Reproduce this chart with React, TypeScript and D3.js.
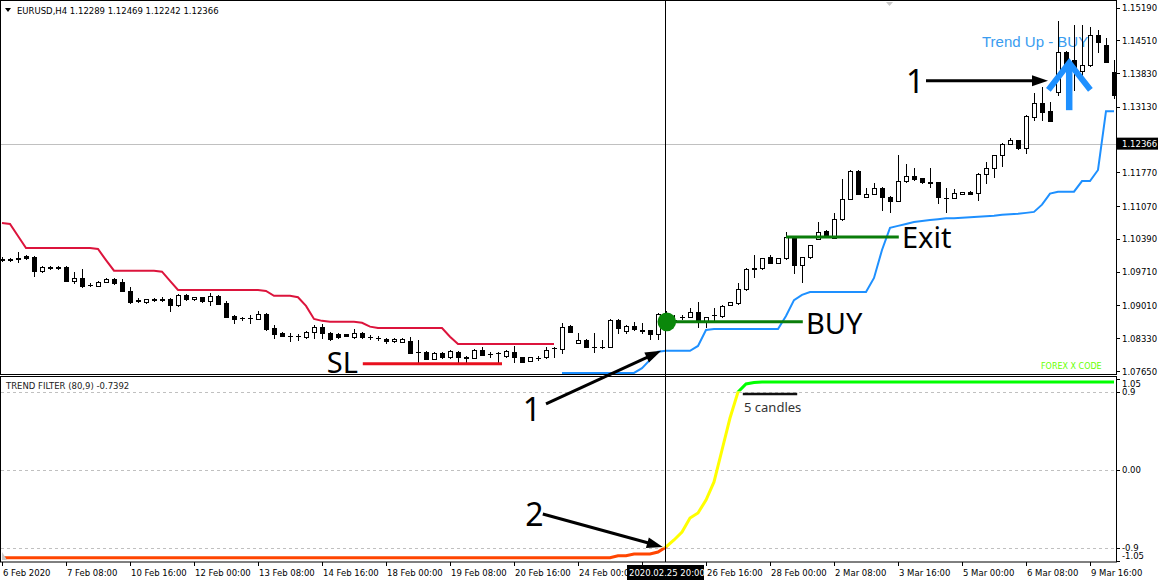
import React from "react";
import * as d3 from "d3";

// ---------- DATA ----------
const opens = [
  1.0997, 1.0997, 1.0998, 1.1003, 1.1001, 1.0973, 1.0981, 1.0981, 1.098, 1.0952,
  1.0958, 1.0944, 1.0942, 1.095, 1.0956, 1.095, 1.0931, 1.0912, 1.0908, 1.0915,
  1.0914, 1.0914, 1.0902, 1.0923, 1.0914, 1.0918, 1.091, 1.0921, 1.0906, 1.0879,
  1.0875, 1.0875, 1.0873, 1.0884, 1.0854, 1.0844, 1.0838, 1.0838, 1.0836, 1.0846,
  1.0857, 1.0844, 1.0842, 1.0841, 1.0836, 1.0844, 1.0836, 1.0834, 1.0832, 1.0827,
  1.0826, 1.0828, 1.0805, 1.0805, 1.079, 1.0803, 1.0794, 1.0805, 1.0794, 1.0792,
  1.0809, 1.0801, 1.0803, 1.0796, 1.0805, 1.0794, 1.0786, 1.0792, 1.0794, 1.0813,
  1.0811, 1.0859, 1.0824, 1.083, 1.0815, 1.0815, 1.0815, 1.0871, 1.0848, 1.0859,
  1.085, 1.085, 1.0842, 1.0879, 1.0871, 1.0877, 1.0877, 1.0888, 1.0867, 1.0882,
  1.0879, 1.0902, 1.0906, 1.0935, 1.0978, 1.0978, 1.1001, 1.0989, 1.0999, 1.1041,
  1.0985, 1.1001, 1.1039, 1.1056, 1.1041, 1.108, 1.1122, 1.118, 1.1126, 1.1133,
  1.1145, 1.1126, 1.1118, 1.1159, 1.117, 1.1165, 1.1157, 1.1157, 1.1124, 1.1124,
  1.1133, 1.1137, 1.1135, 1.1174, 1.1186, 1.1213, 1.1236, 1.1244, 1.1227, 1.1292,
  1.1321, 1.1304, 1.1344, 1.1427, 1.141, 1.1387, 1.14, 1.1462, 1.1441, 1.1385,
];
const highs = [
  1.1001, 1.0999, 1.1012, 1.1006, 1.1004, 1.0982, 1.0982, 1.0982, 1.0982, 1.0971,
  1.0977, 1.0948, 1.0951, 1.0957, 1.0957, 1.0956, 1.094, 1.0916, 1.0915, 1.0916,
  1.0918, 1.0916, 1.0925, 1.0924, 1.0919, 1.0919, 1.0927, 1.0922, 1.091, 1.0881,
  1.0877, 1.0882, 1.089, 1.0885, 1.0861, 1.0845, 1.0844, 1.0842, 1.0847, 1.0861,
  1.0863, 1.0845, 1.0843, 1.0842, 1.0852, 1.0846, 1.084, 1.0838, 1.0834, 1.0833,
  1.0833, 1.0836, 1.083, 1.0806, 1.0804, 1.0804, 1.0809, 1.0806, 1.0796, 1.081,
  1.0815, 1.0805, 1.0805, 1.0808, 1.0817, 1.0795, 1.0795, 1.0796, 1.0815, 1.0815,
  1.0865, 1.086, 1.0844, 1.0831, 1.0844, 1.083, 1.0872, 1.0872, 1.086, 1.0867,
  1.0865, 1.0851, 1.0885, 1.089, 1.0882, 1.0882, 1.0896, 1.0908, 1.0878, 1.0896,
  1.0901, 1.0909, 1.0948, 1.0978, 1.1006, 1.1, 1.1006, 1.1, 1.1054, 1.1042,
  1.1002, 1.1027, 1.1074, 1.1057, 1.1093, 1.1163, 1.1181, 1.1181, 1.1145, 1.1155,
  1.1146, 1.1127, 1.1213, 1.1195, 1.1186, 1.1166, 1.1186, 1.1158, 1.1145, 1.1143,
  1.1137, 1.1138, 1.1175, 1.1199, 1.1214, 1.1237, 1.1248, 1.1245, 1.1295, 1.1342,
  1.1354, 1.1323, 1.1491, 1.1428, 1.1483, 1.1483, 1.1479, 1.1472, 1.1456, 1.141,
];
const lows = [
  1.0993, 1.0993, 1.0991, 1.0997, 1.0963, 1.0971, 1.0977, 1.0977, 1.0951, 1.0948,
  1.094, 1.0942, 1.0941, 1.0949, 1.0945, 1.093, 1.0907, 1.0908, 1.0907, 1.0911,
  1.091, 1.089, 1.09, 1.0913, 1.0913, 1.0909, 1.0902, 1.0903, 1.0876, 1.0865,
  1.0871, 1.0865, 1.0872, 1.0851, 1.0834, 1.0837, 1.0828, 1.083, 1.0834, 1.0834,
  1.0834, 1.083, 1.0834, 1.0837, 1.0834, 1.0834, 1.0832, 1.083, 1.0824, 1.0825,
  1.0825, 1.0802, 1.0784, 1.0789, 1.0789, 1.0793, 1.0793, 1.0784, 1.0784, 1.0791,
  1.0798, 1.0794, 1.0784, 1.0795, 1.0784, 1.0783, 1.0785, 1.0788, 1.0793, 1.0794,
  1.0803, 1.0845, 1.0823, 1.0814, 1.0805, 1.0813, 1.0814, 1.0844, 1.0844, 1.0851,
  1.0844, 1.0832, 1.0832, 1.0863, 1.0867, 1.0873, 1.0876, 1.0857, 1.0857, 1.0871,
  1.0878, 1.0901, 1.0905, 1.0934, 1.0961, 1.0977, 1.0988, 1.0988, 1.0998, 1.0969,
  1.095, 1.1, 1.1038, 1.1042, 1.104, 1.1079, 1.1121, 1.1132, 1.1125, 1.1132,
  1.1099, 1.1095, 1.1117, 1.1158, 1.1161, 1.1156, 1.1147, 1.1114, 1.1095, 1.1123,
  1.1132, 1.1132, 1.112, 1.1155, 1.1167, 1.119, 1.1235, 1.1226, 1.1217, 1.1286,
  1.1286, 1.1283, 1.1338, 1.1338, 1.1348, 1.1365, 1.1398, 1.1427, 1.1405, 1.1331,
];
const closes = [
  1.0996, 1.0995, 1.0999, 1.0999, 1.0973, 1.098, 1.0978, 1.0978, 1.0952, 1.0958,
  1.0942, 1.0943, 1.095, 1.0956, 1.0948, 1.0931, 1.0908, 1.0911, 1.0914, 1.0912,
  1.0913, 1.0902, 1.0923, 1.0914, 1.0918, 1.091, 1.0921, 1.0904, 1.0877, 1.0873,
  1.0874, 1.0874, 1.0884, 1.0852, 1.0842, 1.0838, 1.0837, 1.0837, 1.0846, 1.0857,
  1.0844, 1.0832, 1.0836, 1.0838, 1.0844, 1.0836, 1.0835, 1.0833, 1.0828, 1.0831,
  1.0832, 1.0803, 1.0804, 1.079, 1.0803, 1.0794, 1.0807, 1.0794, 1.0793, 1.0809,
  1.0799, 1.08, 1.0802, 1.0807, 1.0794, 1.0784, 1.0794, 1.0791, 1.0809, 1.0812,
  1.0857, 1.0846, 1.083, 1.0815, 1.0814, 1.0814, 1.0871, 1.0854, 1.0859, 1.0852,
  1.0849, 1.0842, 1.0884, 1.0873, 1.087, 1.0876, 1.0888, 1.0871, 1.0877, 1.0881,
  1.09, 1.0908, 1.0935, 1.0977, 1.0977, 1.0999, 1.0989, 1.0999, 1.1043, 1.0985,
  1.1001, 1.1026, 1.1054, 1.1043, 1.108, 1.1122, 1.118, 1.1133, 1.1133, 1.1145,
  1.1126, 1.1118, 1.1159, 1.117, 1.1163, 1.1157, 1.1156, 1.1126, 1.1123, 1.1135,
  1.1136, 1.1133, 1.1174, 1.1186, 1.1213, 1.1236, 1.1244, 1.1227, 1.1294, 1.1321,
  1.1302, 1.1284, 1.1427, 1.14, 1.1389, 1.14, 1.1462, 1.1448, 1.1406, 1.1337,
];

// trailing stop, down-trend (bars 0..69)
const redStop = [
  1.1072, 1.107, 1.1045, 1.102, 1.102, 1.102, 1.102, 1.102, 1.102, 1.102,
  1.102, 1.102, 1.1018, 1.0995, 1.0973, 1.0973, 1.0973, 1.0973, 1.0973, 1.0973,
  1.0971, 1.0952, 1.0933, 1.0933, 1.0933, 1.0933, 1.0933, 1.0933, 1.0933, 1.0933,
  1.0933, 1.0933, 1.0933, 1.0931, 1.0921, 1.0921, 1.0921, 1.0918, 1.09, 1.0873,
  1.0869, 1.0867, 1.0867, 1.0867, 1.0867, 1.0865, 1.0857, 1.0854, 1.0854, 1.0854,
  1.0854, 1.0854, 1.0854, 1.0854, 1.0854, 1.0854, 1.0836, 1.0821, 1.0821, 1.0821,
  1.0821, 1.0821, 1.0821, 1.0821, 1.0821, 1.0821, 1.0821, 1.0821, 1.0821, 1.0821,
];
const redStart = 0;
// trailing stop, up-trend (bars 70..139)
const blueStop = [
  1.0761, 1.0761, 1.0761, 1.0761, 1.0761, 1.0761, 1.0761, 1.0761, 1.0761, 1.0761,
  1.0771, 1.0788, 1.0805, 1.0807, 1.0807, 1.0807, 1.0807, 1.0817, 1.085, 1.0852,
  1.0852, 1.0852, 1.0852, 1.0852, 1.0852, 1.0852, 1.0852, 1.0852, 1.0879, 1.0912,
  1.0923, 1.0929, 1.0929, 1.0929, 1.0929, 1.0929, 1.0929, 1.0929, 1.0929, 1.0958,
  1.1016, 1.1062, 1.1066, 1.107, 1.1074, 1.1076, 1.1078, 1.108, 1.1082, 1.1082,
  1.1083, 1.1084, 1.1085, 1.1086, 1.1087, 1.1089, 1.109, 1.1091, 1.1093, 1.1095,
  1.111, 1.1133, 1.1137, 1.1137, 1.1137, 1.1159, 1.1159, 1.1182, 1.1304, 1.1304,
];
const blueStart = 70;

// TREND FILTER (80,9)
const trendFilter = [
  -1.018, -1.018, -1.018, -1.018, -1.018, -1.018, -1.018, -1.018, -1.018, -1.018,
  -1.018, -1.018, -1.018, -1.018, -1.018, -1.018, -1.018, -1.018, -1.018, -1.018,
  -1.018, -1.018, -1.018, -1.018, -1.018, -1.018, -1.018, -1.018, -1.018, -1.018,
  -1.018, -1.018, -1.018, -1.018, -1.018, -1.018, -1.018, -1.018, -1.018, -1.018,
  -1.018, -1.018, -1.018, -1.018, -1.018, -1.018, -1.018, -1.018, -1.018, -1.018,
  -1.018, -1.018, -1.018, -1.018, -1.018, -1.018, -1.018, -1.018, -1.018, -1.018,
  -1.018, -1.018, -1.018, -1.018, -1.018, -1.018, -1.018, -1.018, -1.018, -1.018,
  -1.018, -1.018, -1.018, -1.018, -1.018, -1.018, -1.018, -0.995, -0.995, -0.975,
  -0.975, -0.975, -0.952, -0.894, -0.813, -0.721, -0.56, -0.502, -0.352, -0.144,
  0.225, 0.594, 0.894, 0.987, 1.004, 1.01, 1.01, 1.01, 1.01, 1.01,
  1.01, 1.01, 1.01, 1.01, 1.01, 1.01, 1.01, 1.01, 1.01, 1.01,
  1.01, 1.01, 1.01, 1.01, 1.01, 1.01, 1.01, 1.01, 1.01, 1.01,
  1.01, 1.01, 1.01, 1.01, 1.01, 1.01, 1.01, 1.01, 1.01, 1.01,
  1.01, 1.01, 1.01, 1.01, 1.01, 1.01, 1.01, 1.01, 1.01, 1.01,
];

const priceTicks = [1.1519, 1.1451, 1.1383, 1.1313, 1.1245, 1.1177, 1.1107, 1.1039, 1.0971, 1.0901, 1.0833, 1.0765];
const currentPrice = 1.12366;
const subTicks = [1.05, 0.9, 0, -0.9, -1.05];
const subTickLabels = ["1.05", "0.9", "0.00", "-0.9", "-1.05"];
const subLevels = [0.9, 0, -0.9];
const timeTickBars = [0, 8, 16, 24, 32, 40, 48, 56, 64, 72, 80, 88, 96, 104, 112, 120, 128, 136];
const timeTickLabels = [
  "6 Feb 2020", "7 Feb 08:00", "10 Feb 16:00", "12 Feb 00:00", "13 Feb 08:00", "14 Feb 16:00",
  "18 Feb 00:00", "19 Feb 08:00", "20 Feb 16:00", "24 Feb 00:00", "25 Feb 08:00", "26 Feb 16:00",
  "28 Feb 00:00", "2 Mar 08:00", "3 Mar 16:00", "5 Mar 00:00", "6 Mar 08:00", "9 Mar 16:00",
];
const cursorBar = 83;
const cursorLabel = "2020.02.25 20:00";

// annotation anchors (bar index, price) / (bar index, filter value)
const buyLevel = { bar1: 83.9, bar2: 100.1, price: 1.0867 };
const exitLevel = { bar1: 98, bar2: 112.1, price: 1.1043 };
const slLevel = { bar1: 45.1, bar2: 62.5, price: 1.078 };
const entryDot = { bar: 83.1, price: 1.0867 };

const FONT = "'DejaVu Sans', Tahoma, sans-serif";
const BIG = "'Noto Sans', 'DejaVu Sans', sans-serif";

function arrowHead(x1: number, y1: number, x2: number, y2: number, len: number, half: number) {
  const a = Math.atan2(y2 - y1, x2 - x1);
  const bx = x2 - len * Math.cos(a), by = y2 - len * Math.sin(a);
  const px = -Math.sin(a) * half, py = Math.cos(a) * half;
  return `${x2},${y2} ${bx + px},${by + py} ${bx - px},${by - py}`;
}

function Arrow({ x1, y1, x2, y2 }: { x1: number; y1: number; x2: number; y2: number }) {
  const a = Math.atan2(y2 - y1, x2 - x1);
  const ex = x2 - 12 * Math.cos(a), ey = y2 - 12 * Math.sin(a);
  return (
    <g>
      <line x1={x1} y1={y1} x2={ex} y2={ey} stroke="#000" strokeWidth={3} />
      <polygon points={arrowHead(x1, y1, x2, y2, 16, 5.5)} fill="#000" />
    </g>
  );
}

export default function App() {
  const x = d3.scaleLinear().domain([0, 139]).range([2, 1114]);
  const y = d3.scaleLinear().domain([1.0765, 1.1519]).range([371, 7.5]);
  const ys = d3.scaleLinear().domain([-0.9, 0.9]).range([547.5, 391.5]);

  const redPath = d3.line<number>().x((_, i) => x(i + redStart)).y((d) => y(d))(redStop) || "";
  const bluePath = d3.line<number>().x((_, i) => x(i + blueStart)).y((d) => y(d))(blueStop) || "";
  const tfPath = d3.line<number>().x((_, i) => x(i)).y((d) => ys(d))(trendFilter) || "";

  const yHi = ys(0.9), yLo = ys(-0.9);
  const cursorX = Math.round(x(cursorBar)) - 0.5;
  const boxX0 = 627, boxX1 = 704;

  const px = (b: number) => x(b);

  return (
    <svg width={1164} height={581} style={{ position: "fixed", left: 0, top: 0, background: "#fff" }} fontFamily={FONT}>
      <defs>
        <clipPath id="cUp"><rect x={0} y={376} width={1116} height={yHi - 376} /></clipPath>
        <clipPath id="cMid"><rect x={0} y={yHi} width={1116} height={yLo - yHi} /></clipPath>
        <clipPath id="cDn"><rect x={0} y={yLo} width={1116} height={562 - yLo} /></clipPath>
        <clipPath id="cMain"><rect x={1} y={1} width={1115} height={373} /></clipPath>
        <clipPath id="cTime"><rect x={0} y={562} width={boxX0} height={19} /></clipPath>
      </defs>
      <rect x={0} y={0} width={1164} height={581} fill="#fff" />

      {/* bid line */}
      <line x1={1} x2={1116} y1={Math.round(y(currentPrice)) + 0.5} y2={Math.round(y(currentPrice)) + 0.5} stroke="#c0c0c0" />

      {/* Trend Up - BUY label (behind candles) */}
      <text x={px(122.5)} y={y(1.1437)} fontSize={15} fill="#3a9cf0" fontFamily="'Liberation Sans', Arial, sans-serif">Trend Up - BUY</text>

      {/* candles */}
      <g clipPath="url(#cMain)" shapeRendering="crispEdges">
        {opens.map((o, i) => {
          const c = closes[i];
          const cx = Math.round(x(i)) + 0.5;
          const yo = y(o), yc = y(c);
          const top = Math.round(Math.min(yo, yc)) + 0.5;
          const bot = Math.round(Math.max(yo, yc)) + 0.5;
          const bull = c >= o;
          return (
            <g key={i}>
              <line x1={cx} x2={cx} y1={Math.round(y(highs[i]))} y2={Math.round(y(lows[i])) + 1} stroke="#000" />
              {bot - top < 1 ? (
                <line x1={cx - 2.5} x2={cx + 2.5} y1={top} y2={top} stroke="#000" />
              ) : (
                <rect x={cx - 2} y={top} width={4} height={bot - top} fill={bull ? "#fff" : "#000"} stroke="#000" />
              )}
            </g>
          );
        })}
      </g>

      {/* trailing stops */}
      <path d={redPath} fill="none" stroke="#dc143c" strokeWidth={2} />
      <path d={bluePath} fill="none" stroke="#1e90ff" strokeWidth={2} />

      {/* trend filter sub window */}
      {subLevels.map((v) => (
        <line key={v} x1={1} x2={1116} y1={Math.round(ys(v)) + 0.5} y2={Math.round(ys(v)) + 0.5} stroke="#c0c0c0" strokeDasharray="3,3" />
      ))}
      <path d={tfPath} fill="none" stroke="#00ff00" strokeWidth={3} clipPath="url(#cUp)" />
      <path d={tfPath} fill="none" stroke="#ffff00" strokeWidth={3} clipPath="url(#cMid)" />
      <path d={tfPath} fill="none" stroke="#ff4500" strokeWidth={3} clipPath="url(#cDn)" />

      {/* frames */}
      <rect x={0.5} y={0.5} width={1116} height={374} fill="none" stroke="#000" />
      <rect x={0.5} y={376.5} width={1116} height={185.5} fill="none" stroke="#000" />

      {/* header texts */}
      <polygon points="5,8 11,8 8,12" fill="#000" />
      <text x={17} y={14} fontSize={8.5} fill="#000">EURUSD,H4  1.12289 1.12469 1.12242 1.12366</text>
      <text x={6} y={389} fontSize={8.5} fill="#222">TREND FILTER (80,9) -0.7392</text>
      <text x={1041} y={369} fontSize={8} fill="#66ff00">FOREX X CODE</text>
      <polygon points="886,2 893,2 889.5,6" fill="#c8c8c8" />
      <polygon points="2,552 2,560 7,560" fill="#c8c8c8" />

      {/* price axis */}
      {priceTicks.map((v) => (
        <g key={v}>
          <line x1={1116} x2={1120} y1={Math.round(y(v)) + 0.5} y2={Math.round(y(v)) + 0.5} stroke="#000" />
          {Math.abs(y(v) - y(currentPrice)) > 9 && (
            <text x={1122} y={y(v) + 3.5} fontSize={8.5} fill="#000">{v.toFixed(5)}</text>
          )}
        </g>
      ))}
      <rect x={1117} y={y(currentPrice) - 6} width={41} height={12} fill="#000" />
      <text x={1122} y={y(currentPrice) + 3.5} fontSize={8.5} fill="#fff">{currentPrice.toFixed(5)}</text>

      {/* sub axis */}
      {subTicks.map((v, i) => {
        const yy = Math.min(555.5, Math.max(383.5, ys(v)));
        return (
          <g key={v}>
            <line x1={1116} x2={1120} y1={Math.round(ys(v)) + 0.5} y2={Math.round(ys(v)) + 0.5} stroke="#000" />
            <text x={1122} y={yy + 3.5} fontSize={8.5} fill="#000">{subTickLabels[i]}</text>
          </g>
        );
      })}

      {/* time axis */}
      {timeTickBars.map((b, i) => {
        const tx = x(b);
        const hidden = tx > boxX0 && tx < boxX1;
        return (
          <g key={b}>
            <line x1={Math.round(tx) + 0.5} x2={Math.round(tx) + 0.5} y1={562} y2={566} stroke="#000" />
            {!hidden && (
              <text x={tx + 1} y={576} fontSize={8.5} fill="#000" clipPath={tx < boxX0 && tx + 60 > boxX0 ? "url(#cTime)" : undefined}>{timeTickLabels[i]}</text>
            )}
          </g>
        );
      })}

      {/* crosshair */}
      <line x1={cursorX} x2={cursorX} y1={0} y2={562} stroke="#000" />
      <rect x={boxX0} y={565} width={boxX1 - boxX0} height={15} fill="#000" />
      <text x={629} y={576} fontSize={8.5} fill="#fff">{cursorLabel}</text>

      {/* annotations */}
      <line x1={px(slLevel.bar1)} x2={px(slLevel.bar2)} y1={y(slLevel.price)} y2={y(slLevel.price)} stroke="#e8101e" strokeWidth={3} />
      <text x={px(40.6)} y={y(1.0761)} fontSize={29} fontFamily={BIG} fill="#000">SL</text>

      <line x1={px(buyLevel.bar1)} x2={px(buyLevel.bar2)} y1={y(buyLevel.price)} y2={y(buyLevel.price)} stroke="#0a7d0a" strokeWidth={3} />
      <circle cx={px(entryDot.bar)} cy={y(entryDot.price)} r={9.3} fill="#0a870a" />
      <text x={px(100.5)} y={y(1.0842)} fontSize={29} fontFamily={BIG} fill="#000">BUY</text>

      <line x1={px(exitLevel.bar1)} x2={px(exitLevel.bar2)} y1={y(exitLevel.price)} y2={y(exitLevel.price)} stroke="#0a7d0a" strokeWidth={3} />
      <text x={px(112.5)} y={y(1.102)} fontSize={29} fontFamily={BIG} fill="#000">Exit</text>

      <text x={px(113)} y={y(1.1342)} fontSize={32} fontFamily={BIG} fill="#000">1</text>
      <Arrow x1={px(115.5)} y1={y(1.1367)} x2={px(130.75)} y2={y(1.1367)} />

      {/* blue up arrow */}
      <line x1={px(133.4)} x2={px(133.4)} y1={y(1.1306)} y2={y(1.1398)} stroke="#1e90ff" strokeWidth={6.5} />
      <polyline points={`${px(130.8)},${y(1.1348)} ${px(133.4)},${y(1.1404)} ${px(136.05)},${y(1.1348)}`} fill="none" stroke="#1e90ff" strokeWidth={6} strokeLinejoin="miter" />

      <text x={px(65.1)} y={y(1.0661)} fontSize={32} fontFamily={BIG} fill="#000">1</text>
      <Arrow x1={px(68)} y1={y(1.0697)} x2={px(82.4)} y2={y(1.0807)} />

      <text x={px(65.4)} y={ys(-0.652)} fontSize={32} fontFamily={BIG} fill="#000">2</text>
      <Arrow x1={px(67.6)} y1={ys(-0.513)} x2={px(82.6)} y2={ys(-0.894)} />

      <line x1={px(92.6)} x2={px(99.4)} y1={ys(0.871)} y2={ys(0.871)} stroke="#111" strokeWidth={2.5} />
      <text x={px(92.75)} y={ys(0.663)} fontSize={13} fontFamily={BIG} fill="#333">5 candles</text>
    </svg>
  );
}
